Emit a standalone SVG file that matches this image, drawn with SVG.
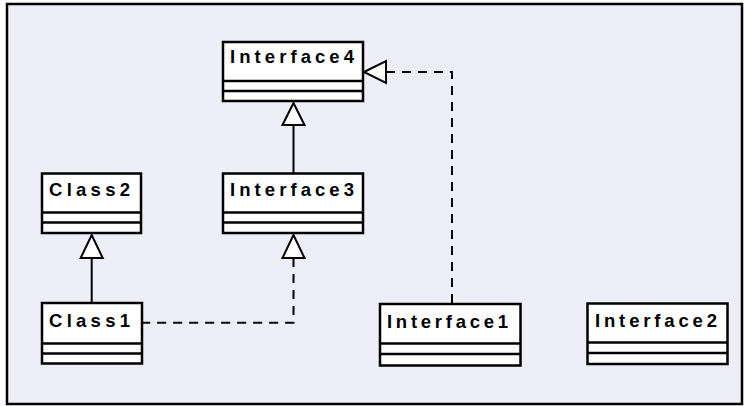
<svg xmlns="http://www.w3.org/2000/svg" width="751" height="406" viewBox="0 0 751 406">
<style>
.frame{fill:#EEEEF8;stroke:#000;stroke-width:2.5}
.box rect{fill:#fff;stroke:#000;stroke-width:2.5}
.box line{stroke:#000;stroke-width:2.5}
.box text{font-family:"Liberation Sans",Arial,sans-serif;font-weight:bold;font-size:18.5px;fill:#000}
.edge{fill:none;stroke:#000;stroke-width:2}
.dash{stroke-dasharray:9 7}
.head{fill:#fff;stroke:#000;stroke-width:2;stroke-linejoin:miter}
</style>
<rect class="frame" x="7" y="4" width="735" height="400"/>
<g id="connectors">
  <line class="edge" x1="293.5" y1="125" x2="293.5" y2="173"/>
  <polygon class="head" points="293.5,103 282.5,125 304.5,125"/>
  <line class="edge" x1="91.7" y1="258" x2="91.7" y2="303"/>
  <polygon class="head" points="91.7,235 80.7,258 102.7,258"/>
  <polyline class="edge dash" points="293.5,258 293.5,322.7 143,322.7"/>
  <polygon class="head" points="293.5,235 282.5,258 304.5,258"/>
  <polyline class="edge dash" points="386,72 452,72 452,304"/>
  <polygon class="head" points="364,72 386,61 386,83"/>
</g>
<g id="Interface4" class="box">
  <rect x="223" y="42" width="140" height="59"/>
  <line x1="223" y1="81" x2="363" y2="81"/>
  <line x1="223" y1="91" x2="363" y2="91"/>
  <text x="230" y="63" textLength="124" lengthAdjust="spacing">Interface4</text>
</g>
<g id="Class2" class="box">
  <rect x="42" y="173.5" width="99" height="59.5"/>
  <line x1="42" y1="212.5" x2="141" y2="212.5"/>
  <line x1="42" y1="222.5" x2="141" y2="222.5"/>
  <text x="49" y="196" textLength="81" lengthAdjust="spacing">Class2</text>
</g>
<g id="Interface3" class="box">
  <rect x="223" y="173.5" width="140" height="59.5"/>
  <line x1="223" y1="212.5" x2="363" y2="212.5"/>
  <line x1="223" y1="222.5" x2="363" y2="222.5"/>
  <text x="230" y="196" textLength="124" lengthAdjust="spacing">Interface3</text>
</g>
<g id="Class1" class="box">
  <rect x="42" y="303" width="100" height="60.5"/>
  <line x1="42" y1="343.5" x2="142" y2="343.5"/>
  <line x1="42" y1="353.5" x2="142" y2="353.5"/>
  <text x="49" y="327" textLength="81" lengthAdjust="spacing">Class1</text>
</g>
<g id="Interface1" class="box">
  <rect x="380" y="304" width="140.5" height="61.5"/>
  <line x1="380" y1="343.5" x2="520.5" y2="343.5"/>
  <line x1="380" y1="354" x2="520.5" y2="354"/>
  <text x="387" y="328" textLength="121" lengthAdjust="spacing">Interface1</text>
</g>
<g id="Interface2" class="box">
  <rect x="587.5" y="303.5" width="140" height="60.5"/>
  <line x1="587.5" y1="342.5" x2="727.5" y2="342.5"/>
  <line x1="587.5" y1="353" x2="727.5" y2="353"/>
  <text x="595" y="327" textLength="122" lengthAdjust="spacing">Interface2</text>
</g>
</svg>
